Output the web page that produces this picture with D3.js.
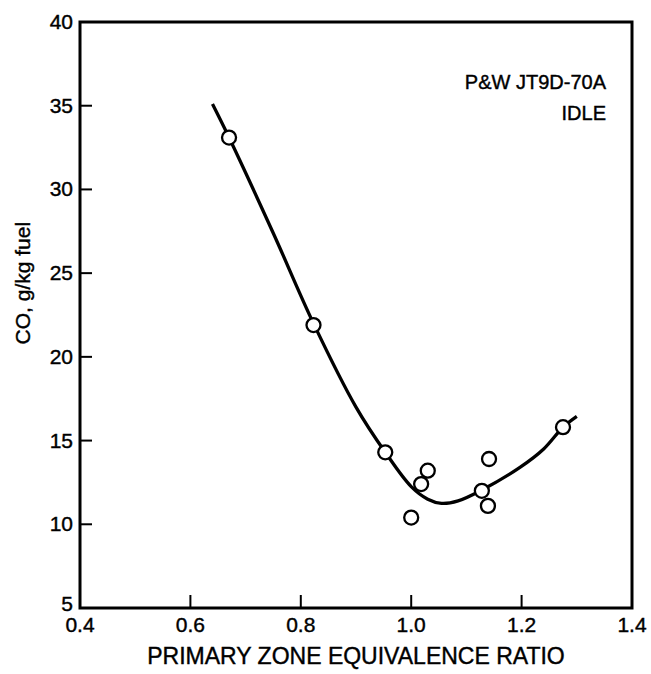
<!DOCTYPE html>
<html>
<head>
<meta charset="utf-8">
<script src="https://cdn.jsdelivr.net/npm/d3@7/dist/d3.min.js"></script>
<style>
  html, body { margin: 0; padding: 0; background: #fff; }
  svg text { font-family: "Liberation Sans", Arial, Helvetica, sans-serif; fill: #000; stroke: #000; stroke-width: 0.4; }
</style>
</head>
<body>
<svg id="chart" width="651" height="674"></svg>
<script>
// Measured CO emissions at idle vs. primary zone equivalence ratio
const phi = [0.67, 0.823, 0.953, 1.0, 1.018, 1.03, 1.128, 1.139, 1.141, 1.275];
const co  = [33.1, 21.9, 14.3, 10.4, 12.4, 13.2, 12.0, 11.1, 13.9, 15.8];

// Fitted trend curve
const fitPhi = [0.64, 0.67, 0.75, 0.823, 0.90, 0.953, 1.0, 1.03, 1.055, 1.085, 1.128, 1.197, 1.24, 1.275, 1.30];
const fitCo  = [35.1, 33.1, 27.4, 22.0, 17.0, 14.3, 12.25, 11.5, 11.25, 11.4, 12.05, 13.4, 14.5, 15.8, 16.45];

const xTicks = [0.4, 0.6, 0.8, 1.0, 1.2, 1.4];
const yTicks = [5, 10, 15, 20, 25, 30, 35, 40];

const svg = d3.select("#chart");
const m = { left: 80, right: 632, top: 22, bottom: 608 };

const x = d3.scaleLinear().domain([0.4, 1.4]).range([m.left, m.right]);
const y = d3.scaleLinear().domain([5, 40]).range([m.bottom, m.top]);

// Inward tick marks (interior ticks only; the ends sit on the frame corners)
svg.selectAll(".xtick").data(xTicks.slice(1, -1)).enter().append("line")
  .attr("x1", d => x(d)).attr("x2", d => x(d))
  .attr("y1", m.bottom).attr("y2", m.bottom - 13)
  .attr("stroke", "#000").attr("stroke-width", 2);
svg.selectAll(".ytick").data(yTicks.slice(1, -1)).enter().append("line")
  .attr("x1", m.left).attr("x2", m.left + 12)
  .attr("y1", d => y(d)).attr("y2", d => y(d))
  .attr("stroke", "#000").attr("stroke-width", 2);

// Frame
svg.append("rect")
  .attr("x", m.left).attr("y", m.top)
  .attr("width", m.right - m.left).attr("height", m.bottom - m.top)
  .attr("fill", "none").attr("stroke", "#000").attr("stroke-width", 3);

// Tick labels
svg.selectAll(".xlab").data(xTicks).enter().append("text")
  .attr("x", d => x(d)).attr("y", m.bottom + 24)
  .attr("text-anchor", "middle")
  .attr("font-size", 21)
  .text(d => d3.format(".1f")(d));
svg.selectAll(".ylab").data(yTicks).enter().append("text")
  .attr("x", m.left - 7).attr("y", d => y(d) + 7 - (d === 5 ? 4 : 0))
  .attr("text-anchor", "end")
  .attr("font-size", 21)
  .text(d => d);

// Axis titles
svg.append("text")
  .attr("x", (m.left + m.right) / 2).attr("y", 664)
  .attr("text-anchor", "middle")
  .attr("font-size", 23)
  .text("PRIMARY ZONE EQUIVALENCE RATIO");
svg.append("text")
  .attr("transform", `translate(30, ${y(24.4)}) rotate(-90)`)
  .attr("text-anchor", "middle")
  .attr("font-size", 21)
  .text("CO, g/kg fuel");

// Annotation
svg.append("text").attr("x", 606).attr("y", 89)
  .attr("text-anchor", "end").attr("font-size", 20).text("P&W JT9D-70A");
svg.append("text").attr("x", 606).attr("y", 120)
  .attr("text-anchor", "end").attr("font-size", 20).text("IDLE");

// Trend curve
const line = d3.line()
  .x(d => x(d[0])).y(d => y(d[1]))
  .curve(d3.curveCatmullRom.alpha(0.5));
svg.append("path")
  .datum(fitPhi.map((p, i) => [p, fitCo[i]]))
  .attr("d", line)
  .attr("fill", "none").attr("stroke", "#000").attr("stroke-width", 3.3);

// Data points
svg.selectAll(".pt").data(phi.map((p, i) => [p, co[i]])).enter().append("circle")
  .attr("cx", d => x(d[0])).attr("cy", d => y(d[1]))
  .attr("r", 7)
  .attr("fill", "#fff").attr("stroke", "#000").attr("stroke-width", 2.3);
</script>
</body>
</html>
